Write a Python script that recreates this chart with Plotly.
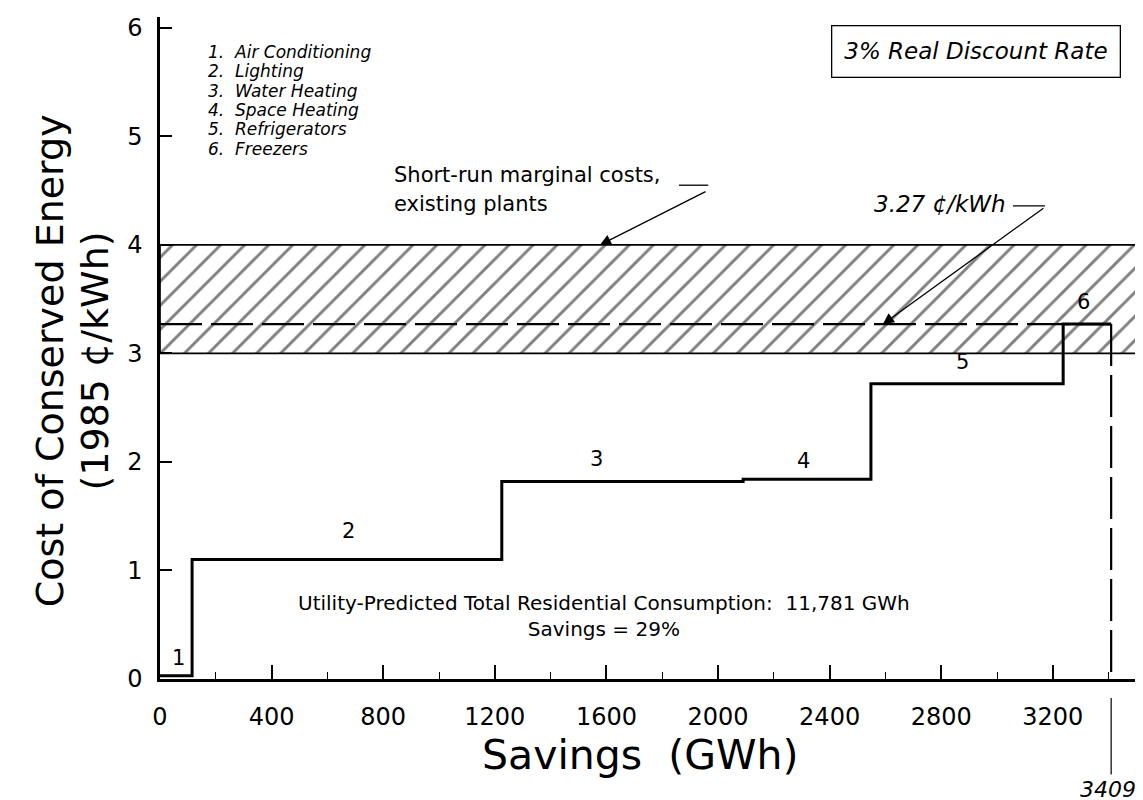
import plotly.graph_objects as go

# ---------------- data ----------------
measures = ["Air Conditioning", "Lighting", "Water Heating", "Space Heating",
            "Refrigerators", "Freezers"]
step_numbers = ["1", "2", "3", "4", "5", "6"]
cum_savings_end = [115, 1225, 2090, 2548, 3237, 3409]   # GWh, cumulative
cost_cents = [0.03, 1.10, 1.82, 1.84, 2.72, 3.27]        # 1985 cents/kWh

marginal_cost = 3.27
band_low, band_high = 3.0, 4.0
total_savings = 3409
total_consumption = 11781
savings_pct = 29

x_ticks = [0, 400, 800, 1200, 1600, 2000, 2400, 2800, 3200]
y_ticks = [0, 1, 2, 3, 4, 5, 6]
x_range = [0, 3516]
y_range = [0, 6.1]

# label anchor positions for step numbers (x in GWh, y in cents)
label_x = [65, 674, 1563, 2305, 2878, 3310]
label_y = [0.19, 1.36, 2.03, 2.01, 2.92, 3.47]

FONT = "DejaVu Sans"
BLACK = "black"

fig = go.Figure()

# hatched band of short-run marginal costs
fig.add_trace(go.Scatter(
    x=[x_range[0], x_range[1], x_range[1], x_range[0], x_range[0]],
    y=[band_low, band_low, band_high, band_high, band_low],
    mode="lines", fill="toself",
    fillcolor="white",
    fillpattern=dict(shape="/", fgcolor=BLACK, bgcolor="white",
                     size=17, solidity=0.17),
    line=dict(color=BLACK, width=1.7),
    hoverinfo="skip", showlegend=False))

# dashed 3.27 line
fig.add_trace(go.Scatter(
    x=[0, total_savings], y=[marginal_cost, marginal_cost],
    mode="lines", line=dict(color=BLACK, width=2.4, dash="42px,9px"),
    showlegend=False, hoverinfo="skip"))

# dashed vertical at total savings
fig.add_trace(go.Scatter(
    x=[total_savings, total_savings], y=[marginal_cost, 0],
    mode="lines", line=dict(color=BLACK, width=2.2, dash="42px,9px"),
    showlegend=False, hoverinfo="skip"))

# supply curve steps
step_x = [0] + cum_savings_end
step_y = cost_cents + [cost_cents[-1]]
fig.add_trace(go.Scatter(
    x=step_x, y=step_y, mode="lines", line_shape="hv",
    line=dict(color=BLACK, width=3),
    showlegend=False, hoverinfo="skip"))

annotations = []

# step number labels
for n, lx, ly in zip(step_numbers, label_x, label_y):
    annotations.append(dict(x=lx, y=ly, text=n, showarrow=False,
                            font=dict(family=FONT, size=21, color=BLACK)))

# legend list (one line each, tight spacing)
for i, (n, m) in enumerate(zip(step_numbers, measures)):
    annotations.append(dict(x=165, y=5.78 - i * 0.179, xanchor="left",
                            text=f"<i>{n}.&nbsp;&nbsp;{m}</i>", showarrow=False,
                            font=dict(family=FONT, size=17, color=BLACK)))

# title box
annotations.append(dict(x=2925, y=5.78, text="<i>3% Real Discount Rate</i>",
                        showarrow=False, bordercolor=BLACK, borderwidth=1.3,
                        borderpad=12, bgcolor="white",
                        font=dict(family=FONT, size=23, color=BLACK)))

# short-run marginal cost label
annotations.append(dict(x=830, y=4.64, xanchor="left", text="Short-run marginal costs,",
                        showarrow=False, font=dict(family=FONT, size=21, color=BLACK)))
annotations.append(dict(x=830, y=4.38, xanchor="left", text="existing plants",
                        showarrow=False, font=dict(family=FONT, size=21, color=BLACK)))
annotations.append(dict(x=1577, y=band_high, ax=107, ay=-54, text="",
                        showarrow=True, arrowhead=2, arrowsize=1.7, arrowwidth=1.3,
                        arrowcolor=BLACK))

# 3.27 label
annotations.append(dict(x=3040, y=4.38, xanchor="right",
                        text=f"<i>{marginal_cost:.2f} ¢/kWh</i>",
                        showarrow=False, font=dict(family=FONT, size=23, color=BLACK)))
annotations.append(dict(x=2591, y=marginal_cost, ax=162, ay=-117, text="",
                        showarrow=True, arrowhead=2, arrowsize=1.7, arrowwidth=1.3,
                        arrowcolor=BLACK))

# consumption text
annotations.append(dict(x=1590, y=0.58,
                        text=(f"Utility-Predicted Total Residential Consumption:&nbsp;&nbsp;"
                              f"{total_consumption:,} GWh<br>Savings = {savings_pct}%"),
                        showarrow=False, align="center",
                        font=dict(family=FONT, size=20, color=BLACK)))

# 3409 marker below the axis
annotations.append(dict(x=total_savings, y=0, ax=0, ay=97, text="",
                        showarrow=True, arrowhead=0,
                        arrowwidth=1.2, arrowcolor=BLACK, standoff=19))
annotations.append(dict(x=total_savings, y=0, yshift=-110, xshift=-3,
                        text=f"<i>{total_savings}</i>", showarrow=False,
                        font=dict(family=FONT, size=22, color=BLACK)))

# axis titles
annotations.append(dict(xref="paper", yref="paper", x=-0.112, y=0.48,
                        xanchor="center", yanchor="middle",
                        text="Cost of Conserved Energy", textangle=-90, showarrow=False,
                        font=dict(family=FONT, size=38, color=BLACK)))
annotations.append(dict(xref="paper", yref="paper", x=-0.066, y=0.48,
                        xanchor="center", yanchor="middle",
                        text="(1985 ¢/kWh)", textangle=-90, showarrow=False,
                        font=dict(family=FONT, size=38, color=BLACK)))
annotations.append(dict(xref="paper", yref="paper", x=0.49, y=-0.115,
                        xanchor="center", yanchor="middle",
                        text="Savings&nbsp;&nbsp;(GWh)", showarrow=False,
                        font=dict(family=FONT, size=41, color=BLACK)))

shapes = [
    # right border
    dict(type="line", xref="paper", yref="paper", x0=1, x1=1, y0=0, y1=1,
         line=dict(color=BLACK, width=1.6)),
    # leader tails
    dict(type="line", x0=1860, x1=1965, y0=4.55, y1=4.55,
         line=dict(color=BLACK, width=1.3)),
    dict(type="line", x0=3057, x1=3172, y0=4.36, y1=4.36,
         line=dict(color=BLACK, width=1.3)),
]

fig.update_layout(
    width=1143, height=800,
    margin=dict(l=152, r=10, t=6, b=129),
    paper_bgcolor="white", plot_bgcolor="white",
    font=dict(family=FONT, color=BLACK),
    annotations=annotations, shapes=shapes,
    showlegend=False,
)

fig.update_xaxes(
    range=x_range, tickvals=x_ticks, ticks="inside", ticklen=14, tickwidth=1.5,
    tickcolor=BLACK, showline=True, linecolor=BLACK, linewidth=2.5,
    showgrid=False, zeroline=False, ticklabelstandoff=14,
    tickfont=dict(family=FONT, size=24, color=BLACK),
    minor=dict(dtick=200, ticks="inside", ticklen=7, tickwidth=1.3, tickcolor=BLACK,
               showgrid=False),
)
fig.update_yaxes(
    range=y_range, tickvals=y_ticks, ticks="inside", ticklen=12, tickwidth=1.5,
    tickcolor=BLACK, showline=True, linecolor=BLACK, linewidth=2.5,
    showgrid=False, zeroline=False, ticklabelstandoff=10,
    tickfont=dict(family=FONT, size=24, color=BLACK),
)

fig.write_html("out.html")
